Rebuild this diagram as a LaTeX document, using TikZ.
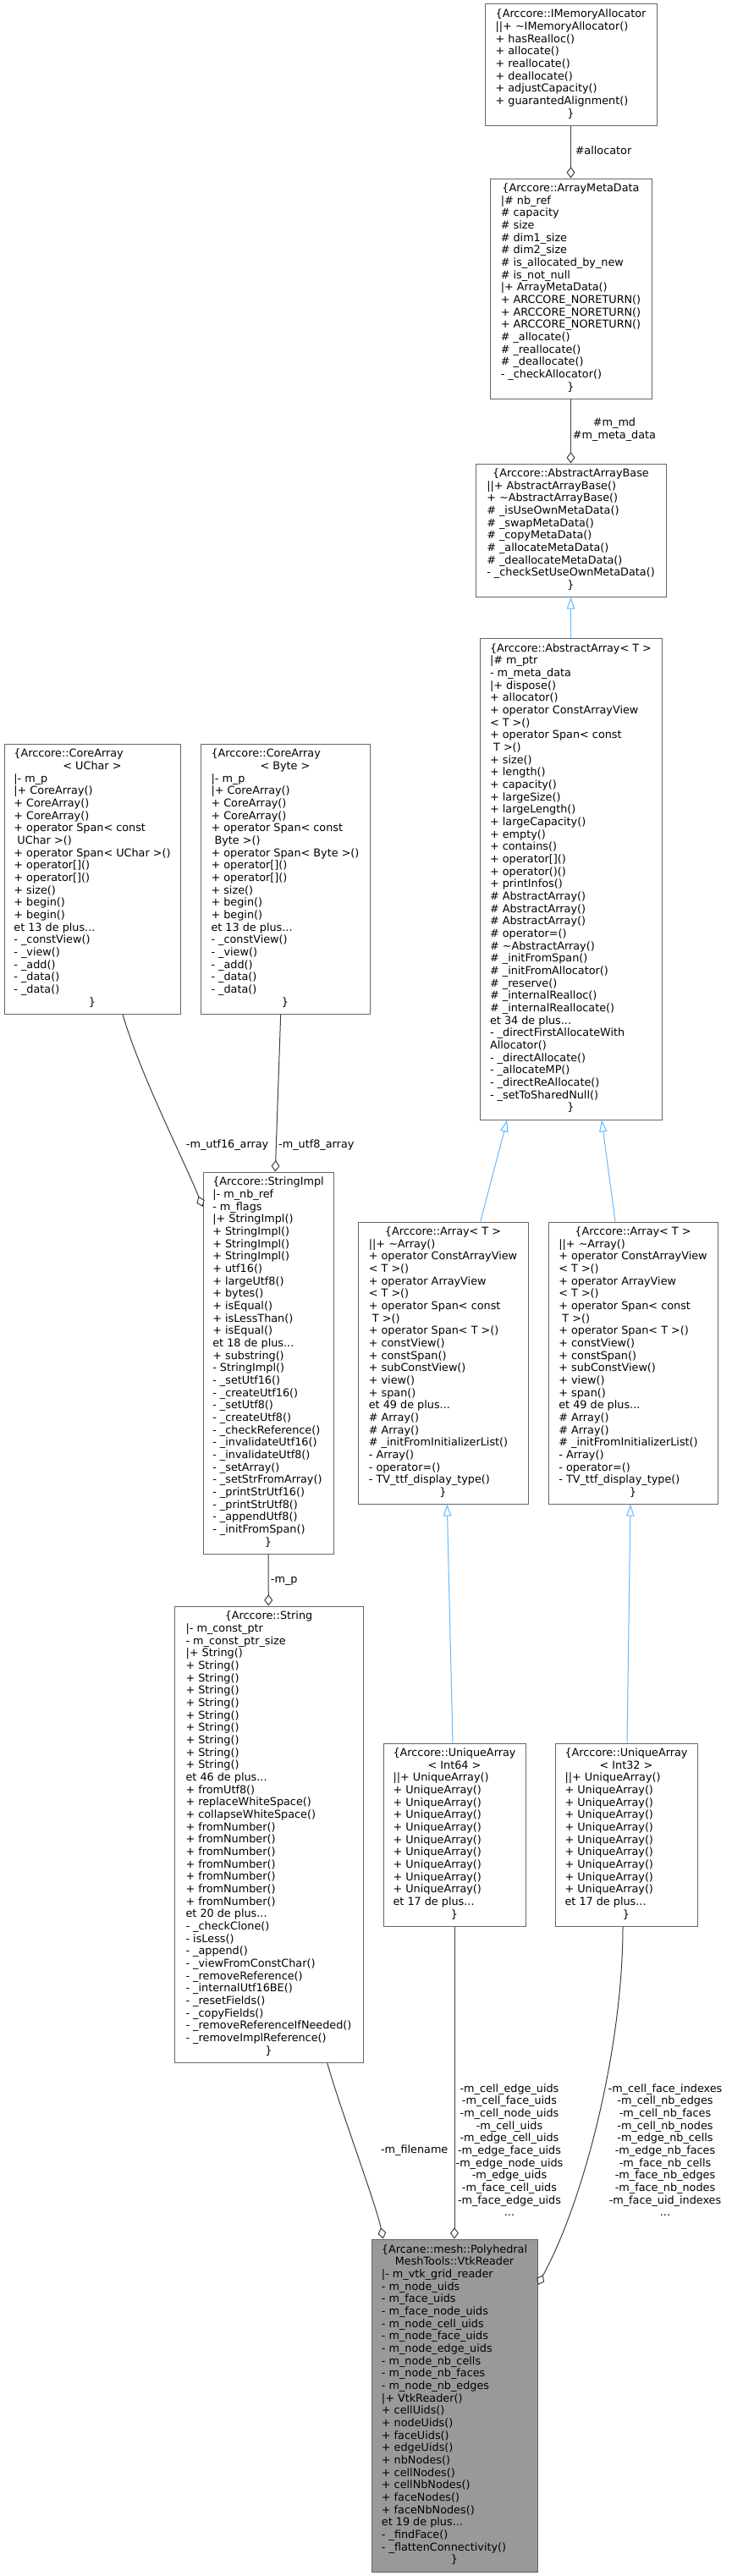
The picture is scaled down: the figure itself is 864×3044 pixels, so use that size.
\documentclass[tikz,border=0pt]{standalone}
\usepackage{fontspec}
\setmainfont{DejaVu Sans}
\usetikzlibrary{arrows.meta}

\definecolor{edgegray}{HTML}{404040}
\definecolor{edgeblue}{HTML}{63B8FF}
\definecolor{boxgray}{HTML}{666666}
\definecolor{mainfill}{HTML}{999999}

\newcommand{\ctr}[1]{\multicolumn{1}{@{}c@{}}{#1}}
\newcommand{\members}[1]{\begin{tabular}{@{}l@{}}#1\end{tabular}}
\newcommand{\arraymembers}{\members{\ctr{\{Arccore::Array< T >}\\
||+ \textasciitilde Array()\\
+ operator ConstArrayView\\
< T >()\\
+ operator ArrayView\\
< T >()\\
+ operator Span< const\\
\ T >()\\
+ operator Span< T >()\\
+ constView()\\
+ constSpan()\\
+ subConstView()\\
+ view()\\
+ span()\\
et 49 de plus...\\
\# Array()\\
\# Array()\\
\# \_initFromInitializerList()\\
- Array()\\
- operator=()\\
- TV\_ttf\_display\_type()\\
\ctr{\}}}}
\newcommand{\uniquemembers}[1]{\members{\ctr{\{Arccore::UniqueArray}\\
\ctr{< #1 >}\\
||+ UniqueArray()\\
+ UniqueArray()\\
+ UniqueArray()\\
+ UniqueArray()\\
+ UniqueArray()\\
+ UniqueArray()\\
+ UniqueArray()\\
+ UniqueArray()\\
+ UniqueArray()\\
+ UniqueArray()\\
et 17 de plus...\\
\ctr{\}}}}
\newcommand{\coremembers}[1]{\members{\{Arccore::CoreArray\\
\ctr{< #1 >}\\
|- m\_p\\
|+ CoreArray()\\
+ CoreArray()\\
+ CoreArray()\\
+ operator Span< const\\
\ #1 >()\\
+ operator Span< #1 >()\\
+ operator[]()\\
+ operator[]()\\
+ size()\\
+ begin()\\
+ begin()\\
et 13 de plus...\\
- \_constView()\\
- \_view()\\
- \_add()\\
- \_data()\\
- \_data()\\
\ctr{\}}}}

\begin{document}
\begin{tikzpicture}[x=0.75pt, y=-0.75pt,
    cls/.style={draw=boxgray, line width=0.75pt, inner sep=0pt, font=\fontsize{9.6}{11}\selectfont},
    boxsize/.style 2 args={minimum width=#1*0.75pt, minimum height=#2*0.75pt},
    lbl/.style={inner sep=0pt, align=center, font=\fontsize{9.6}{11}\selectfont},
    agg/.style={draw=edgegray, line width=0.75pt, -{Diamond[open, length=10pt, width=7.5pt]}},
    inh/.style={draw=edgeblue, line width=0.75pt, -{Triangle[open, length=10.5pt, width=7pt]}}]
    \useasboundingbox[fill=white] (0,0) rectangle (864,3044);

    \node[cls, boxsize={203}{143}] (alloc) at (674.5,76.5) {\members{\ctr{\{Arccore::IMemoryAllocator}\\
        ||+ \textasciitilde IMemoryAllocator()\\
        + hasRealloc()\\
        + allocate()\\
        + reallocate()\\
        + deallocate()\\
        + adjustCapacity()\\
        + guarantedAlignment()\\
        \ctr{\}}}};
    \node[cls, boxsize={191}{260}] (meta) at (674.5,341) {\members{\ctr{\{Arccore::ArrayMetaData}\\
        |\# nb\_ref\\
        \# capacity\\
        \# size\\
        \# dim1\_size\\
        \# dim2\_size\\
        \# is\_allocated\_by\_new\\
        \# is\_not\_null\\
        |+ ArrayMetaData()\\
        + ARCCORE\_NORETURN()\\
        + ARCCORE\_NORETURN()\\
        + ARCCORE\_NORETURN()\\
        \# \_allocate()\\
        \# \_reallocate()\\
        \# \_deallocate()\\
        - \_checkAllocator()\\
        \ctr{\}}}};
    \node[cls, boxsize={225}{157}] (base) at (674.5,626.5) {\members{\ctr{\{Arccore::AbstractArrayBase}\\
        ||+ AbstractArrayBase()\\
        + \textasciitilde AbstractArrayBase()\\
        \# \_isUseOwnMetaData()\\
        \# \_swapMetaData()\\
        \# \_copyMetaData()\\
        \# \_allocateMetaData()\\
        \# \_deallocateMetaData()\\
        - \_checkSetUseOwnMetaData()\\
        \ctr{\}}}};
    \node[cls, boxsize={215}{569}] (absarr) at (674.5,1038.5) {\members{\ctr{\{Arccore::AbstractArray< T >}\\
        |\# m\_ptr\\
        - m\_meta\_data\\
        |+ dispose()\\
        + allocator()\\
        + operator ConstArrayView\\
        < T >()\\
        + operator Span< const\\
        \ T >()\\
        + size()\\
        + length()\\
        + capacity()\\
        + largeSize()\\
        + largeLength()\\
        + largeCapacity()\\
        + empty()\\
        + contains()\\
        + operator[]()\\
        + operator()()\\
        + printInfos()\\
        \# AbstractArray()\\
        \# AbstractArray()\\
        \# AbstractArray()\\
        \# operator=()\\
        \# \textasciitilde AbstractArray()\\
        \# \_initFromSpan()\\
        \# \_initFromAllocator()\\
        \# \_reserve()\\
        \# \_internalRealloc()\\
        \# \_internalReallocate()\\
        et 34 de plus...\\
        - \_directFirstAllocateWith\\
        Allocator()\\
        - \_directAllocate()\\
        - \_allocateMP()\\
        - \_directReAllocate()\\
        - \_setToSharedNull()\\
        \ctr{\}}}};
    \node[cls, boxsize={201}{333}] (arrL) at (523.5,1610.5) {\arraymembers};
    \node[cls, boxsize={200}{333}] (arrR) at (748,1610.5) {\arraymembers};
    \node[cls, boxsize={168}{216}] (uaL) at (537,2168) {\uniquemembers{Int64}};
    \node[cls, boxsize={168}{216}] (uaR) at (740,2168) {\uniquemembers{Int32}};
    \node[cls, boxsize={208}{319}] (coreU) at (109,1038.5) {\coremembers{UChar}};
    \node[cls, boxsize={200}{319}] (coreB) at (337,1038.5) {\coremembers{Byte}};
    \node[cls, boxsize={154}{451}] (simpl) at (317,1610.5) {\members{\ctr{\{Arccore::StringImpl}\\
        |- m\_nb\_ref\\
        - m\_flags\\
        |+ StringImpl()\\
        + StringImpl()\\
        + StringImpl()\\
        + StringImpl()\\
        + utf16()\\
        + largeUtf8()\\
        + bytes()\\
        + isEqual()\\
        + isLessThan()\\
        + isEqual()\\
        et 18 de plus...\\
        + substring()\\
        - StringImpl()\\
        - \_setUtf16()\\
        - \_createUtf16()\\
        - \_setUtf8()\\
        - \_createUtf8()\\
        - \_checkReference()\\
        - \_invalidateUtf16()\\
        - \_invalidateUtf8()\\
        - \_setArray()\\
        - \_setStrFromArray()\\
        - \_printStrUtf16()\\
        - \_printStrUtf8()\\
        - \_appendUtf8()\\
        - \_initFromSpan()\\
        \ctr{\}}}};
    \node[cls, boxsize={223}{539}] (str) at (317.5,2167.5) {\members{\ctr{\{Arccore::String}\\
        |- m\_const\_ptr\\
        - m\_const\_ptr\_size\\
        |+ String()\\
        + String()\\
        + String()\\
        + String()\\
        + String()\\
        + String()\\
        + String()\\
        + String()\\
        + String()\\
        + String()\\
        et 46 de plus...\\
        + fromUtf8()\\
        + replaceWhiteSpace()\\
        + collapseWhiteSpace()\\
        + fromNumber()\\
        + fromNumber()\\
        + fromNumber()\\
        + fromNumber()\\
        + fromNumber()\\
        + fromNumber()\\
        + fromNumber()\\
        et 20 de plus...\\
        - \_checkClone()\\
        - isLess()\\
        - \_append()\\
        - \_viewFromConstChar()\\
        - \_removeReference()\\
        - \_internalUtf16BE()\\
        - \_resetFields()\\
        - \_copyFields()\\
        - \_removeReferenceIfNeeded()\\
        - \_removeImplReference()\\
        \ctr{\}}}};
    \node[cls, fill=mainfill, boxsize={196}{393}] (vtk) at (537,2842.5) {\members{\ctr{\{Arcane::mesh::Polyhedral}\\
        \ctr{MeshTools::VtkReader}\\
        |- m\_vtk\_grid\_reader\\
        - m\_node\_uids\\
        - m\_face\_uids\\
        - m\_face\_node\_uids\\
        - m\_node\_cell\_uids\\
        - m\_node\_face\_uids\\
        - m\_node\_edge\_uids\\
        - m\_node\_nb\_cells\\
        - m\_node\_nb\_faces\\
        - m\_node\_nb\_edges\\
        |+ VtkReader()\\
        + cellUids()\\
        + nodeUids()\\
        + faceUids()\\
        + edgeUids()\\
        + nbNodes()\\
        + cellNodes()\\
        + cellNbNodes()\\
        + faceNodes()\\
        + faceNbNodes()\\
        et 19 de plus...\\
        - \_findFace()\\
        - \_flattenConnectivity()\\
        \ctr{\}}}};

    \draw[agg] (alloc) -- (meta);
    \draw[agg] (meta) -- (base);
    \draw[inh] (absarr) -- (base);
    \draw[inh] ([shift={(44.2,0)}]arrL.north) -- ([shift={(-75.2,0)}]absarr.south);
    \draw[inh] ([shift={(-21,0)}]arrR.north) -- ([shift={(36.5,0)}]absarr.south);
    \draw[inh] ([shift={(-2,0)}]uaL.north) -- ([shift={(4.8,0)}]arrL.south);
    \draw[inh] ([shift={(1,0)}]uaR.north) -- ([shift={(-3,0)}]arrR.south);
    \draw[agg] ([shift={(-5.3,0)}]coreB.south) -- ([shift={(8.3,0)}]simpl.north);
    \draw[agg] ([shift={(36,0)}]coreU.south) .. controls +(20,70) and +(-22,-55) .. ([shift={(0,-184.5)}]simpl.west);
    \draw[agg] (simpl) -- (str);
    \draw[agg] ([shift={(69.2,0)}]str.south) .. controls +(12,45) and +(-8,-40) .. ([shift={(-84.3,0)}]vtk.north);
    \draw[agg] (uaL) -- (vtk);
    \draw[agg] ([shift={(-4,0)}]uaR.south) .. controls +(0,144) and +(54.7,-100) .. ([shift={(0,-142.5)}]vtk.east);

    \node[lbl] (lalloc) at (713,178) {\#allocator};
    \node[lbl] (lmd) at (726,507.5) {\#m\_md\\\#m\_meta\_data};
    \node[lbl] (lutf16) at (268.6,1353) {-m\_utf16\_array};
    \node[lbl] (lutf8) at (373.8,1353) {-m\_utf8\_array};
    \node[lbl] (lmp) at (335.8,1868) {-m\_p};
    \node[lbl] (lfile) at (489.7,2540.7) {-m\_filename};
    \node[lbl] (luids) at (602,2540.5) {-m\_cell\_edge\_uids\\-m\_cell\_face\_uids\\-m\_cell\_node\_uids\\-m\_cell\_uids\\-m\_edge\_cell\_uids\\-m\_edge\_face\_uids\\-m\_edge\_node\_uids\\-m\_edge\_uids\\-m\_face\_cell\_uids\\-m\_face\_edge\_uids\\...};
    \node[lbl] (lnb) at (786,2540.5) {-m\_cell\_face\_indexes\\-m\_cell\_nb\_edges\\-m\_cell\_nb\_faces\\-m\_cell\_nb\_nodes\\-m\_edge\_nb\_cells\\-m\_edge\_nb\_faces\\-m\_face\_nb\_cells\\-m\_face\_nb\_edges\\-m\_face\_nb\_nodes\\-m\_face\_uid\_indexes\\...};
\end{tikzpicture}
\end{document}
